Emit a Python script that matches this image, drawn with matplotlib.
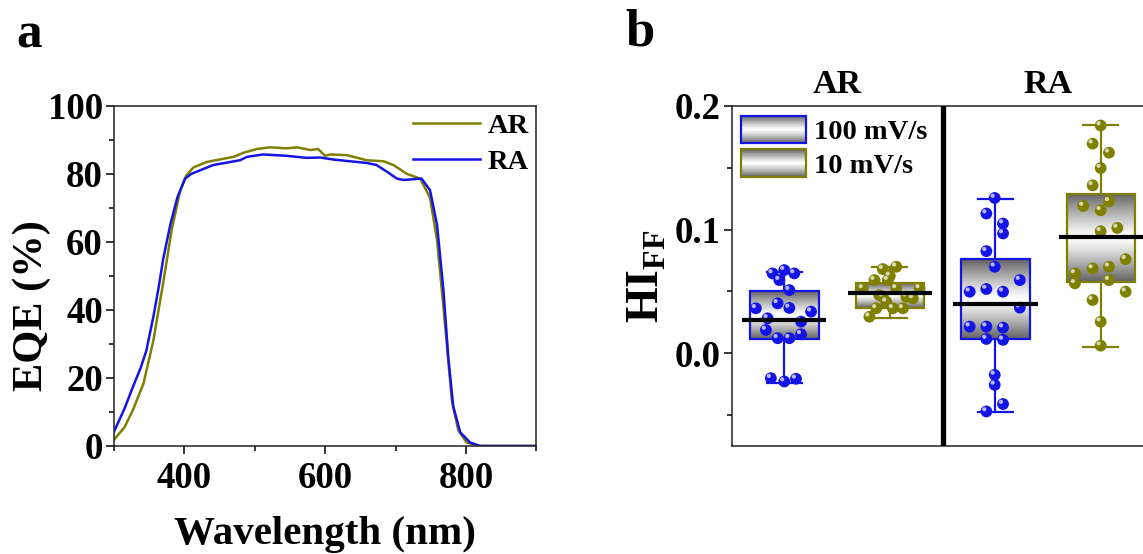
import numpy as np
import matplotlib
matplotlib.use("Agg")
import matplotlib.pyplot as plt
from matplotlib.patches import Rectangle
from matplotlib.legend_handler import HandlerBase
import matplotlib.transforms as mtransforms

plt.rcParams['font.family'] = ['Liberation Serif', 'DejaVu Serif']
plt.rcParams['font.weight'] = 'bold'
plt.rcParams['mathtext.fontset'] = 'custom'
plt.rcParams['mathtext.rm'] = 'Liberation Serif:bold'
plt.rcParams['mathtext.bf'] = 'Liberation Serif:bold'

# ---------------- data: panel a ----------------
wl_AR = [300, 315, 327, 342, 356, 370, 382, 394, 403, 413, 432, 470, 484, 503, 522, 545, 560,
         579, 590, 600, 607, 631, 659, 683, 697, 716, 735, 749, 759, 768, 780, 789, 801, 820, 900]
eqe_AR = [1.8, 5.5, 10.6, 18.4, 31, 48, 63.5, 75, 79.6, 81.9, 83.5, 85, 86.2, 87.3, 87.8, 87.5, 87.8,
          87, 87.3, 85.3, 85.7, 85.5, 84, 83.7, 82.6, 80, 78.6, 73, 60.5, 41, 13.5, 4.7, 1, 0, 0]
wl_RA = [300, 315, 327, 338, 346, 356, 363, 370, 380, 390, 401, 410, 441, 479, 489, 512, 545, 574,
         593, 612, 659, 673, 688, 702, 711, 737, 749, 759, 768, 775, 782, 792, 806, 820, 900]
eqe_RA = [4.2, 11, 17.4, 23, 28, 38, 46, 55, 65, 73, 78.6, 80, 82.6, 84, 85, 85.7, 85.3, 84.7,
          84.8, 84.2, 83.2, 82.6, 80.6, 78.6, 78.2, 78.6, 75.2, 65, 46, 26, 11.6, 4, 1, 0, 0]

# ---------------- data: panel b ----------------
groups = ['AR', 'RA']
rates = ['100 mV/s', '10 mV/s']
box_pos = [1, 2, 3, 4]
box_whislo = [-0.0237, 0.0282, -0.0479, 0.0053]
box_q1 = [0.0115, 0.0368, 0.0113, 0.0573]
box_med = [0.0269, 0.0484, 0.0395, 0.0938]
box_q3 = [0.0502, 0.0570, 0.0758, 0.1287]
box_whishi = [0.0658, 0.0699, 0.1244, 0.1841]

AR100_x = [0.889, 1.0, 1.095, 0.953, 1.048, 0.731, 0.937, 1.048, 1.254, 0.842, 1.159, 0.826,
           1.159, 0.937, 1.048, 0.873, 1.0, 1.111]
AR100_y = [0.0645, 0.0672, 0.0645, 0.0591, 0.051, 0.0363, 0.0403, 0.0366, 0.0336, 0.0282, 0.0255,
           0.0188, 0.0153, 0.0121, 0.0121, -0.0202, -0.0229, -0.0207]
AR10_x = [1.934, 2.061, 1.855, 1.981, 1.744, 2.061, 2.282, 1.934, 2.156, 2.219, 1.966, 1.871,
          2.029, 2.124, 1.807, 2.0, 1.90]
AR10_y = [0.068, 0.0699, 0.0591, 0.0591, 0.0524, 0.0524, 0.0524, 0.0457, 0.0457, 0.0443, 0.0416,
          0.0363, 0.0363, 0.0363, 0.0295, 0.0625, 0.047]
RA100_x = [2.994, 2.915, 3.073, 3.073, 2.915, 2.994, 3.232, 2.757, 2.915, 3.073, 3.232, 2.757,
           2.915, 3.073, 2.915, 3.073, 2.994, 2.994, 3.073, 2.915]
RA100_y = [0.1255, 0.1129, 0.1048, 0.0968, 0.0825, 0.0699, 0.0591, 0.0497, 0.0519, 0.0497, 0.0368,
           0.0215, 0.0215, 0.0207, 0.0115, 0.0108, -0.0175, -0.0256, -0.0411, -0.0471]
RA10_x = [3.998, 3.922, 4.077, 3.998, 3.922, 3.833, 4.077, 3.998, 3.998, 4.156, 4.235, 3.754,
          3.922, 4.077, 3.754, 4.077, 4.235, 3.922, 3.998, 3.998]
RA10_y = [0.1841, 0.1694, 0.1621, 0.1497, 0.1357, 0.119, 0.1228, 0.1156, 0.0986, 0.1013, 0.076,
          0.0645, 0.0685, 0.0699, 0.0565, 0.0591, 0.0497, 0.043, 0.0255, 0.0061]

BLUE = '#1414E6'
OLIVE = '#7F7F00'
box_colors = [BLUE, OLIVE, BLUE, OLIVE]
pts_x = [AR100_x, AR10_x, RA100_x, RA10_x]
pts_y = [AR100_y, AR10_y, RA100_y, RA10_y]


def grad_val(t):
    return 1.0 - 0.62 * np.abs(2 * np.asarray(t) - 1) ** 1.2


fig = plt.figure(figsize=(11.43, 5.54), dpi=100)
ax1 = fig.add_axes([0.0997, 0.195, 0.3695, 0.614])
ax2 = fig.add_axes([0.640, 0.195, 0.3693, 0.614])

# ---------------- panel a ----------------
ax1.plot(wl_AR, eqe_AR, color=OLIVE, lw=1.8, label='AR')
ax1.plot(wl_RA, eqe_RA, color=BLUE, lw=1.8, label='RA')
ax1.set_xlim(300, 900)
ax1.set_ylim(0, 100)
ax1.set_xticks([400, 600, 800])
ax1.set_xticks([300, 500, 700, 900], minor=True)
ax1.set_yticks([0, 20, 40, 60, 80, 100])
ax1.set_yticks([10, 30, 50, 70, 90], minor=True)
ax1.tick_params(axis='both', which='major', direction='out', length=6, width=1.1,
                labelsize=26.5, pad=2)
ax1.tick_params(axis='x', which='major', pad=5)
ax1.tick_params(axis='both', which='minor', direction='out', length=3.5, width=1.1)
for lab in ax1.get_xticklabels() + ax1.get_yticklabels():
    lab.set_fontweight('bold')
ax1.set_xlabel('Wavelength (nm)', fontsize=29.5, fontweight='bold', labelpad=14)
ax1.set_ylabel('EQE (%)', fontsize=30.5, fontweight='bold')
ax1.yaxis.set_label_coords(-0.149, 0.414)
for sp in ax1.spines.values():
    sp.set_linewidth(1.1)
    sp.set_color('#222222')
ax1.legend(loc='upper right', frameon=False, handlelength=2.35,
           labelspacing=0.37, borderaxespad=0.1, borderpad=0.15, handletextpad=0.3,
           prop={'weight': 'bold', 'size': 20.5})

# ---------------- panel b ----------------
stats = []
for i in range(4):
    stats.append(dict(whislo=box_whislo[i], q1=box_q1[i], med=box_med[i],
                      q3=box_q3[i], whishi=box_whishi[i], fliers=[]))

bw = 0.65
bp = ax2.bxp(stats, positions=box_pos, widths=bw, patch_artist=True,
             showfliers=False, capwidths=0.33,
             medianprops=dict(linewidth=0))
grad = grad_val(np.linspace(0, 1, 256)).reshape(-1, 1)
for i, patch in enumerate(bp['boxes']):
    c = box_colors[i]
    patch.set_facecolor('none')
    patch.set_edgecolor(c)
    patch.set_linewidth(1.6)
    patch.set_zorder(3)
    p = box_pos[i]
    im = ax2.imshow(grad, extent=[p - bw / 2, p + bw / 2, box_q1[i], box_q3[i]],
                    origin='lower', aspect='auto', cmap='gray', vmin=0, vmax=1,
                    interpolation='bilinear', zorder=2)
    im.set_clip_path(patch)
for i, w in enumerate(bp['whiskers']):
    w.set_color(box_colors[i // 2])
    w.set_linewidth(1.6)
for i, cp in enumerate(bp['caps']):
    cp.set_color(box_colors[i // 2])
    cp.set_linewidth(1.6)

hl_trans = mtransforms.offset_copy(ax2.transData, fig=fig, x=-1.5, y=1.6, units='points')
for i in range(4):
    c = box_colors[i]
    ax2.scatter(pts_x[i], pts_y[i], s=72, color=c, edgecolor='none', zorder=4)
    ax2.scatter(pts_x[i], pts_y[i], s=9, color='white', alpha=0.7, edgecolor='none',
                zorder=5, transform=hl_trans)

ax2.hlines(box_med, np.array(box_pos) - 0.4, np.array(box_pos) + 0.4, color='black',
           lw=3.0, zorder=6)
ax2.axvline(2.5, color='black', lw=3.8, zorder=7)

ax2.set_xlim(0.5, 4.5)
ax2.set_ylim(-0.075, 0.2)
ax2.set_xticks([])
ax2.set_yticks([0.0, 0.1, 0.2])
ax2.set_yticks([-0.05, 0.05, 0.15], minor=True)
ax2.set_yticklabels(['%.1f' % v for v in [0.0, 0.1, 0.2]])
ax2.tick_params(axis='y', which='major', direction='out', length=6, width=1.1,
                labelsize=26.5, pad=2)
ax2.tick_params(axis='y', which='minor', direction='out', length=3.5, width=1.1)
for lab in ax2.get_yticklabels():
    lab.set_fontweight('bold')
for sp in ax2.spines.values():
    sp.set_linewidth(1.1)
    sp.set_color('#222222')
ax2.set_ylabel(r'$\mathbf{HI}_{\mathbf{FF}}$', fontsize=33, labelpad=4)

blend = mtransforms.blended_transform_factory(ax2.transData, ax2.transAxes)
ax2.text(1.5, 1.038, groups[0], transform=blend, ha='center', va='baseline',
         fontsize=24.5, fontweight='bold')
ax2.text(3.5, 1.038, groups[1], transform=blend, ha='center', va='baseline',
         fontsize=24.5, fontweight='bold')


class GradHandler(HandlerBase):
    def __init__(self, color):
        super().__init__()
        self.color = color

    def create_artists(self, legend, orig_handle, xdescent, ydescent, width, height,
                       fontsize, trans):
        arts = []
        n = 40
        for k in range(n):
            t = (k + 0.5) / n
            v = float(grad_val(t))
            r = Rectangle((-xdescent, -ydescent + k * height / n), width, height / n * 1.1,
                          facecolor=(v, v, v), edgecolor='none', transform=trans)
            arts.append(r)
        arts.append(Rectangle((-xdescent, -ydescent), width, height, fill=False,
                              edgecolor=self.color, lw=1.6, transform=trans))
        return arts


h1 = Rectangle((0, 0), 1, 1)
h2 = Rectangle((0, 0), 1, 1)
ax2.legend([h1, h2], rates, handler_map={h1: GradHandler(BLUE), h2: GradHandler(OLIVE)},
           loc='upper left', frameon=False, handlelength=2.25, handleheight=1.1,
           labelspacing=0.15, borderaxespad=0.25, borderpad=0.1, handletextpad=0.3,
           prop={'weight': 'bold', 'size': 20.5})

fig.text(0.014, 1 - 47 / 554, 'a', fontsize=37, fontweight='bold', va='baseline')
fig.text(0.547, 1 - 45 / 554, 'b', fontsize=38, fontweight='bold', va='baseline')

fig.savefig('out.png', dpi=100)
